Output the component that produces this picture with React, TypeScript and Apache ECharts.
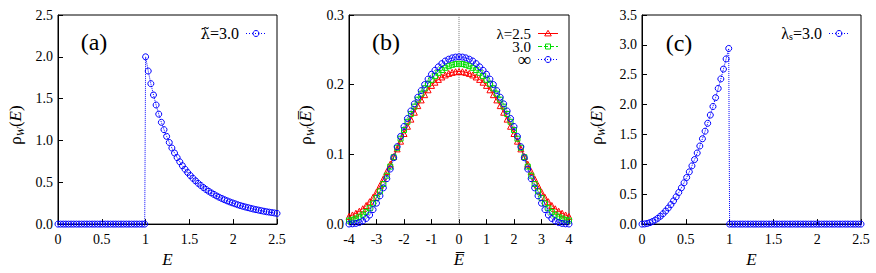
import React, { useEffect, useRef } from 'react';
import * as echarts from 'echarts';

// Shared energy grid of panels (a) and (c)
const eGrid = [
  0, 0.03, 0.06, 0.09, 0.12, 0.15, 0.18, 0.21, 0.24, 0.27, 0.3, 0.33, 0.36, 0.39, 0.42, 0.45, 0.48,
  0.51, 0.54, 0.57, 0.6, 0.63, 0.66, 0.69, 0.72, 0.75, 0.78, 0.81, 0.84, 0.87, 0.9, 0.93, 0.96, 0.99,
  1, 1.03, 1.06, 1.09, 1.12, 1.15, 1.18, 1.21, 1.24, 1.27, 1.3, 1.33, 1.36, 1.39, 1.42, 1.45, 1.48,
  1.51, 1.54, 1.57, 1.6, 1.63, 1.66, 1.69, 1.72, 1.75, 1.78, 1.81, 1.84, 1.87, 1.9, 1.93, 1.96, 1.99,
  2.02, 2.05, 2.08, 2.11, 2.14, 2.17, 2.2, 2.23, 2.26, 2.29, 2.32, 2.35, 2.38, 2.41, 2.44, 2.47, 2.5,
];

// Panel (a): tilde-lambda = 3.0
const rhoA = [
  0, 0, 0, 0, 0, 0, 0, 0, 0, 0, 0, 0, 0, 0, 0, 0, 0,
  0, 0, 0, 0, 0, 0, 0, 0, 0, 0, 0, 0, 0, 0, 0, 0, 0,
  2.0, 1.83, 1.679, 1.544, 1.424, 1.315, 1.217, 1.129, 1.049, 0.976, 0.91, 0.85, 0.795, 0.745, 0.698, 0.656, 0.617,
  0.581, 0.548, 0.517, 0.488, 0.462, 0.437, 0.414, 0.393, 0.373, 0.355, 0.337, 0.321, 0.306, 0.292, 0.278, 0.266, 0.254,
  0.243, 0.232, 0.222, 0.213, 0.204, 0.196, 0.188, 0.18, 0.173, 0.167, 0.16, 0.154, 0.148, 0.143, 0.138, 0.133, 0.128,
];

// Panel (c): lambda_s = 3.0
const rhoC = [
  0, 0.0027, 0.0108, 0.0243, 0.0432, 0.0675, 0.0972, 0.1323, 0.1728, 0.2187, 0.27, 0.3267, 0.3888, 0.4563, 0.5292, 0.6075, 0.6912,
  0.7803, 0.8748, 0.9747, 1.08, 1.1907, 1.3068, 1.4283, 1.5552, 1.6875, 1.8252, 1.9683, 2.1168, 2.2707, 2.43, 2.5947, 2.7648, 2.9403,
  0, 0, 0, 0, 0, 0, 0, 0, 0, 0, 0, 0, 0, 0, 0, 0, 0,
  0, 0, 0, 0, 0, 0, 0, 0, 0, 0, 0, 0, 0, 0, 0, 0, 0,
  0, 0, 0, 0, 0, 0, 0, 0, 0, 0, 0, 0, 0, 0, 0, 0, 0,
];

// Panel (b): centred energy grid
const eBar = [
  -4, -3.875, -3.75, -3.625, -3.5, -3.375, -3.25, -3.125, -3, -2.875, -2.75, -2.625, -2.5, -2.375, -2.25, -2.125,
  -2, -1.875, -1.75, -1.625, -1.5, -1.375, -1.25, -1.125, -1, -0.875, -0.75, -0.625, -0.5, -0.375, -0.25, -0.125,
  0, 0.125, 0.25, 0.375, 0.5, 0.625, 0.75, 0.875, 1, 1.125, 1.25, 1.375, 1.5, 1.625, 1.75, 1.875,
  2, 2.125, 2.25, 2.375, 2.5, 2.625, 2.75, 2.875, 3, 3.125, 3.25, 3.375, 3.5, 3.625, 3.75, 3.875, 4,
];
const rhoL25 = [
  0.011, 0.0131, 0.0156, 0.0185, 0.022, 0.0267, 0.0321, 0.0384, 0.046, 0.0552, 0.065, 0.0753, 0.086, 0.0969, 0.1079, 0.119,
  0.13, 0.1404, 0.1506, 0.1605, 0.17, 0.1782, 0.1857, 0.1927, 0.199, 0.2036, 0.2076, 0.2111, 0.214, 0.2162, 0.2177, 0.2186,
  0.219, 0.2186, 0.2177, 0.2162, 0.214, 0.2111, 0.2076, 0.2036, 0.199, 0.1927, 0.1857, 0.1782, 0.17, 0.1605, 0.1506, 0.1404,
  0.13, 0.119, 0.1079, 0.0969, 0.086, 0.0753, 0.065, 0.0552, 0.046, 0.0384, 0.0321, 0.0267, 0.022, 0.0185, 0.0156, 0.0131, 0.011,
];
const rhoL30 = [
  0.005, 0.0062, 0.008, 0.0105, 0.0135, 0.0175, 0.0228, 0.0295, 0.0375, 0.047, 0.0575, 0.0695, 0.0825, 0.096, 0.1095, 0.1225,
  0.135, 0.1468, 0.158, 0.1685, 0.1785, 0.187, 0.1948, 0.2013, 0.207, 0.2123, 0.217, 0.221, 0.2242, 0.2266, 0.2285, 0.2296,
  0.23, 0.2296, 0.2285, 0.2266, 0.2242, 0.221, 0.217, 0.2123, 0.207, 0.2013, 0.1948, 0.187, 0.1785, 0.1685, 0.158, 0.1468,
  0.135, 0.1225, 0.1095, 0.096, 0.0825, 0.0695, 0.0575, 0.047, 0.0375, 0.0295, 0.0228, 0.0175, 0.0135, 0.0105, 0.008, 0.0062, 0.005,
];
const rhoLInf = [
  0.0001, 0.0004, 0.001, 0.0022, 0.0045, 0.008, 0.013, 0.0208, 0.03, 0.0405, 0.052, 0.0652, 0.079, 0.0952, 0.111, 0.1258,
  0.14, 0.1515, 0.1623, 0.1725, 0.182, 0.1915, 0.2002, 0.208, 0.215, 0.2207, 0.2257, 0.2302, 0.234, 0.2366, 0.2385, 0.2396,
  0.24, 0.2396, 0.2385, 0.2366, 0.234, 0.2302, 0.2257, 0.2207, 0.215, 0.208, 0.2002, 0.1915, 0.182, 0.1725, 0.1623, 0.1515,
  0.14, 0.1258, 0.111, 0.0952, 0.079, 0.0652, 0.052, 0.0405, 0.03, 0.0208, 0.013, 0.008, 0.0045, 0.0022, 0.001, 0.0004, 0.0001,
];

// vertical reference line of panel (b) at E̅ = 0
const zeroLineX = [0, 0];
const zeroLineY = [0, 0.3];

const panelLabels = ['(a)', '(b)', '(c)'];
const legendB = ['λ=2.5', '3.0', '∞'];

const SERIF = 'Liberation Serif, serif';
const BLUE = '#0000ff';
const RED = '#ff0000';
const GREEN = '#00dd00';
const CLEAR = 'rgba(0,0,0,0)';

const pairs = (xs: number[], ys: number[]) => xs.map((x, i) => [x, ys[i]]);
const numFmt = (v: number) => String(+v.toFixed(2));
const fix1 = (v: number) => v.toFixed(1);

function makeXAxis(gridIndex: number, min: number, max: number, interval: number, name: string) {
  return {
    gridIndex,
    type: 'value',
    min,
    max,
    interval,
    name,
    nameLocation: 'middle',
    nameGap: 21,
    nameTextStyle: { fontFamily: SERIF, fontSize: 17, fontStyle: 'italic', color: '#000' },
    axisLine: { onZero: false, lineStyle: { color: '#000', width: 1 } },
    axisTick: { inside: true, length: 5, lineStyle: { color: '#000' } },
    axisLabel: { fontFamily: SERIF, fontSize: 14, color: '#000', margin: 8, formatter: numFmt },
    splitLine: { show: false },
  };
}

function makeYAxis(gridIndex: number, max: number, interval: number) {
  return {
    gridIndex,
    type: 'value',
    min: 0,
    max,
    interval,
    axisLine: { onZero: false, lineStyle: { color: '#000', width: 1 } },
    axisTick: { inside: true, length: 5, lineStyle: { color: '#000' } },
    axisLabel: { fontFamily: SERIF, fontSize: 14, color: '#000', margin: 5, formatter: fix1 },
    splitLine: { show: false },
  };
}

function scatterLine(idx: number, name: string, xs: number[], ys: number[], color: string, symbol: string, size: number, type: string) {
  return {
    type: 'line',
    name,
    xAxisIndex: idx,
    yAxisIndex: idx,
    data: pairs(xs, ys),
    symbol,
    symbolSize: size,
    showSymbol: true,
    showAllSymbol: true,
    itemStyle: { color: CLEAR, borderColor: color, borderWidth: 1 },
    lineStyle: { color, width: 1, type },
    emphasis: { disabled: true },
  };
}

function yName(x: number, y: number, bar: boolean) {
  return {
    type: 'text',
    x,
    y,
    rotation: Math.PI / 2,
    style: {
      text: bar ? '{r|ρ}{s|W}{r|(}{i|E\u0305}{r|)}' : '{r|ρ}{s|W}{r|(}{i|E}{r|)}',
      align: 'center',
      verticalAlign: 'middle',
      fill: '#000',
      rich: {
        r: { fontFamily: SERIF, fontSize: 17, lineHeight: 20 },
        i: { fontFamily: SERIF, fontSize: 17, fontStyle: 'italic', lineHeight: 20 },
        s: { fontFamily: SERIF, fontSize: 11, fontStyle: 'italic', lineHeight: 12, verticalAlign: 'bottom' },
      },
    },
  };
}

function legendRow(textX: number, y: number, label: any, color: string, dash: number[] | null, marker: any) {
  return [
    { type: 'text', x: textX, y, style: { ...label, fill: '#000', align: 'right', verticalAlign: 'middle' } },
    {
      type: 'line',
      shape: { x1: textX + 7, y1: y, x2: textX + 27, y2: y },
      style: { stroke: color, lineWidth: 1, lineDash: dash || undefined },
    },
    marker(textX + 17, y),
  ];
}

const circ = (color: string) => (cx: number, cy: number) => ({
  type: 'circle', shape: { cx, cy, r: 3 }, style: { fill: 'none', stroke: color, lineWidth: 1 },
});
const tri = (color: string) => (cx: number, cy: number) => ({
  type: 'polygon', shape: { points: [[cx, cy - 3.2], [cx + 3.3, cy + 2.4], [cx - 3.3, cy + 2.4]] },
  style: { fill: 'none', stroke: color, lineWidth: 1 },
});
const sq = (color: string) => (cx: number, cy: number) => ({
  type: 'rect', shape: { x: cx - 2.5, y: cy - 2.5, width: 5, height: 5 },
  style: { fill: 'none', stroke: color, lineWidth: 1 },
});

function buildOption() {
  const gridBase = { top: 15, height: 218, show: true, borderColor: '#000', borderWidth: 1 };
  const labelStyle = { fontFamily: SERIF, fontSize: 24, fill: '#000', align: 'center', verticalAlign: 'middle' };
  const graphic: any[] = [
    { type: 'text', x: 94, y: 42, style: { ...labelStyle, text: panelLabels[0] } },
    { type: 'text', x: 386, y: 42, style: { ...labelStyle, text: panelLabels[1] } },
    { type: 'text', x: 679, y: 43, style: { ...labelStyle, text: panelLabels[2] } },
    yName(15, 125, false),
    yName(305, 125, true),
    yName(596, 125, false),
    ...legendRow(239, 33.5, {
      text: '{t|λ\u0303}{a|=3.0}',
      rich: {
        t: { fontFamily: 'DejaVu Serif', fontSize: 15, lineHeight: 14 },
        a: { fontFamily: SERIF, fontSize: 16, lineHeight: 14 },
      },
    }, BLUE, [1, 2], circ(BLUE)),
    ...legendRow(531, 33.5, { fontFamily: SERIF, fontSize: 15, lineHeight: 12, text: legendB[0] }, RED, null, tri(RED)),
    ...legendRow(531, 46.5, { fontFamily: SERIF, fontSize: 15, lineHeight: 12, text: legendB[1] }, GREEN, [4, 2], sq(GREEN)),
    ...legendRow(531, 59.5, { fontFamily: SERIF, fontSize: 19, lineHeight: 12, text: legendB[2] }, BLUE, [1, 2], circ(BLUE)),
    ...legendRow(822, 33.5, {
      text: '{a|λ}{s|s}{a|=3.0}',
      rich: {
        a: { fontFamily: SERIF, fontSize: 16, lineHeight: 16 },
        s: { fontFamily: SERIF, fontSize: 10, lineHeight: 10, verticalAlign: 'bottom' },
      },
    }, BLUE, [1, 2], circ(BLUE)),
  ];
  return {
    animation: false,
    backgroundColor: '#fff',
    textStyle: { fontFamily: SERIF },
    grid: [
      { ...gridBase, left: 58, width: 219 },
      { ...gridBase, left: 349, width: 220 },
      { ...gridBase, left: 642, width: 219 },
    ],
    xAxis: [
      makeXAxis(0, 0, 2.5, 0.5, 'E'),
      makeXAxis(1, -4, 4, 1, 'E\u0305'),
      makeXAxis(2, 0, 2.5, 0.5, 'E'),
    ],
    yAxis: [makeYAxis(0, 2.5, 0.5), makeYAxis(1, 0.3, 0.1), makeYAxis(2, 3.5, 0.5)],
    series: [
      scatterLine(0, 'λ̃=3.0', eGrid, rhoA, BLUE, 'circle', 6, 'dotted'),
      {
        type: 'line',
        name: 'zero',
        xAxisIndex: 1,
        yAxisIndex: 1,
        data: pairs(zeroLineX, zeroLineY),
        symbol: 'none',
        lineStyle: { color: '#777', width: 1, type: 'dotted' },
        emphasis: { disabled: true },
      },
      scatterLine(1, 'λ=2.5', eBar, rhoL25, RED, 'triangle', 6, 'solid'),
      scatterLine(1, '3.0', eBar, rhoL30, GREEN, 'rect', 5, 'dashed'),
      scatterLine(1, '∞', eBar, rhoLInf, BLUE, 'circle', 6, 'dotted'),
      scatterLine(2, 'λs=3.0', eGrid, rhoC, BLUE, 'circle', 6, 'dotted'),
    ],
    graphic,
  };
}

export default function App() {
  const ref = useRef<HTMLDivElement>(null);
  useEffect(() => {
    if (!ref.current) return;
    const chart = echarts.init(ref.current, null, { renderer: 'svg' });
    chart.setOption(buildOption());
    let alive = true;
    const fontsApi = (document as any).fonts;
    if (fontsApi && fontsApi.load) {
      Promise.all([
        fontsApi.load('14px "Liberation Serif"'),
        fontsApi.load('italic 17px "Liberation Serif"'),
        fontsApi.load('15px "DejaVu Serif"'),
      ]).then(() => {
        if (!alive) return;
        chart.clear();
        chart.setOption(buildOption());
      }, () => {});
    }
    return () => {
      alive = false;
      chart.dispose();
    };
  }, []);
  return <div ref={ref} style={{ position: 'absolute', left: 0, top: 0, width: 876, height: 273 }} />;
}
